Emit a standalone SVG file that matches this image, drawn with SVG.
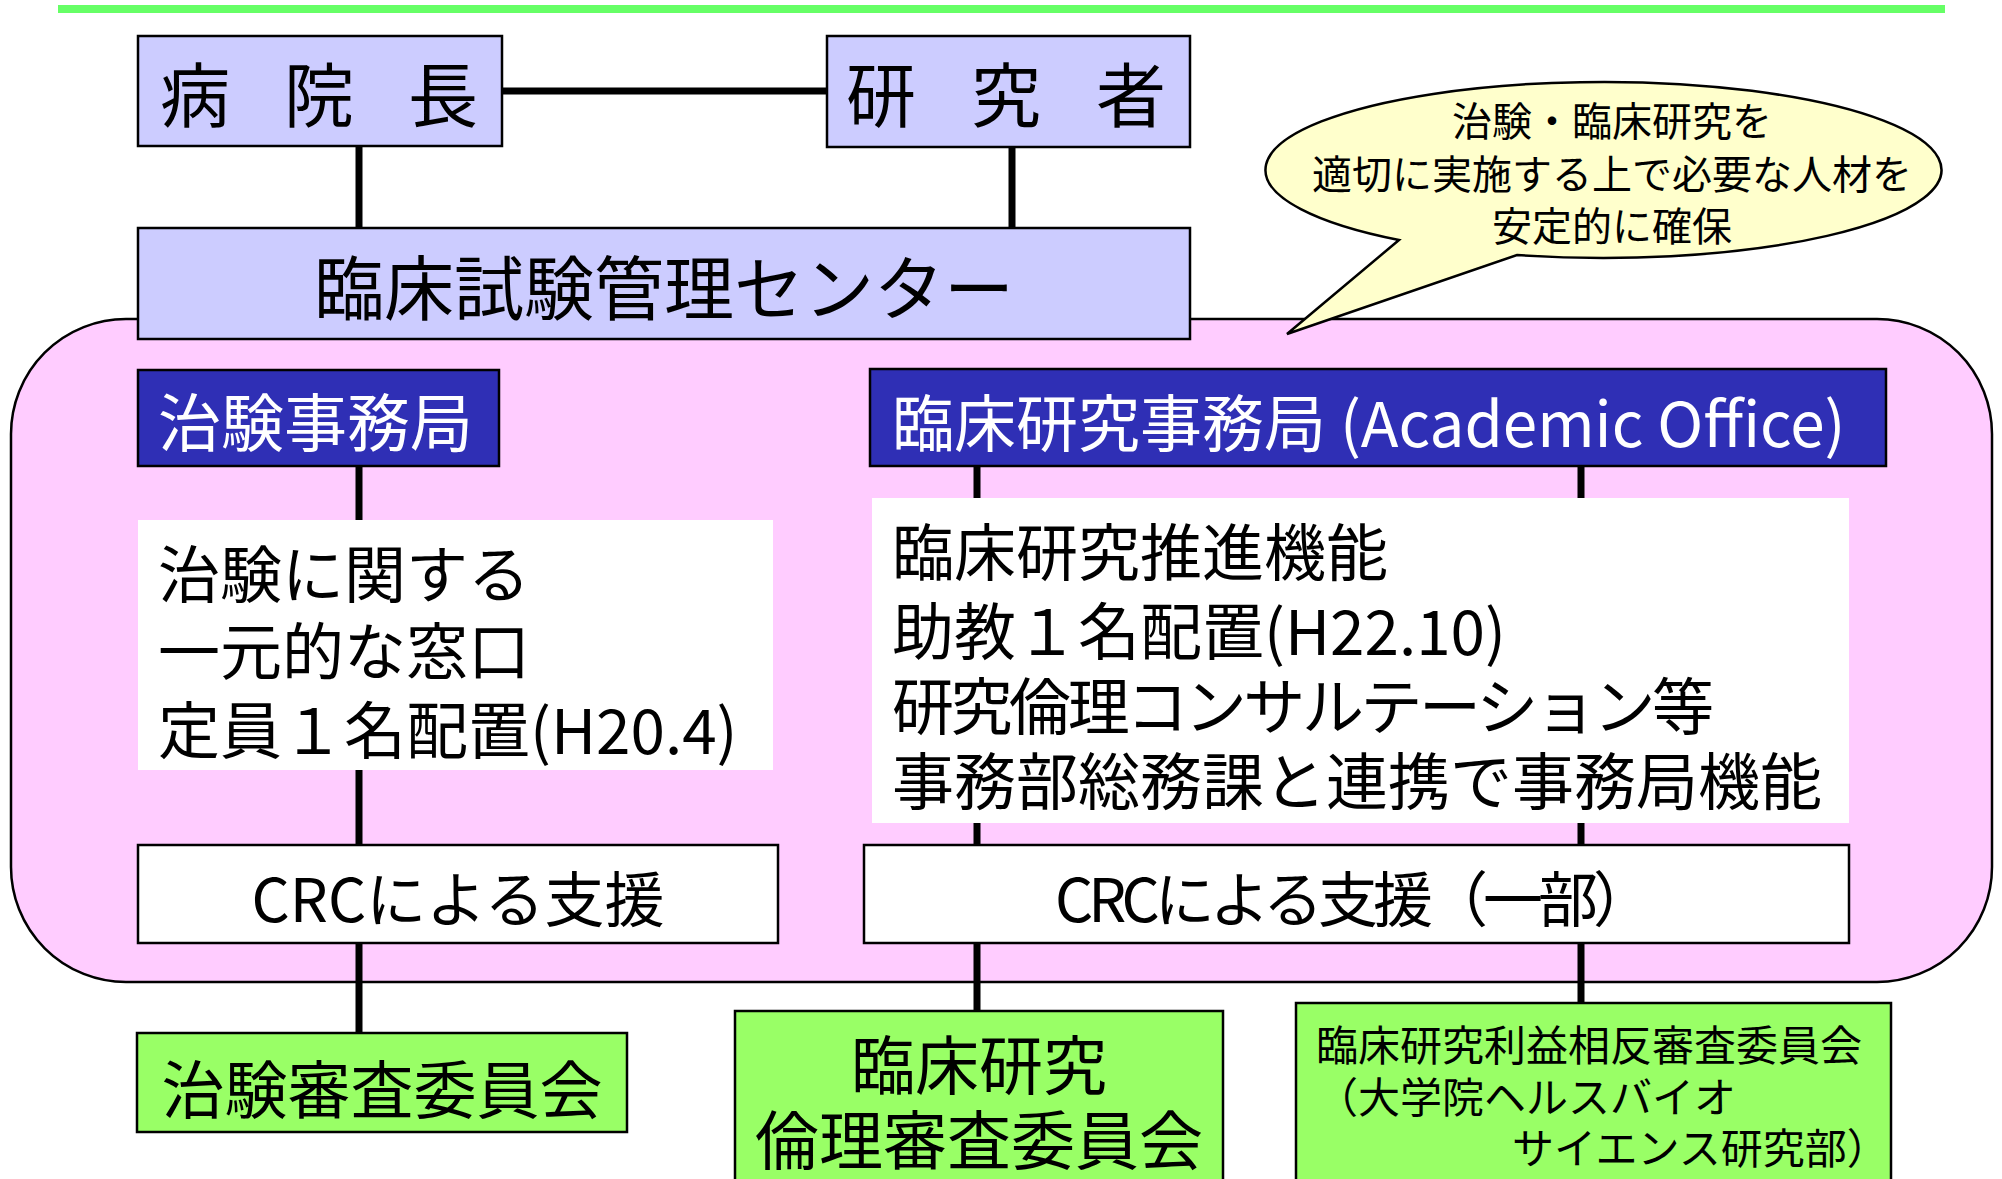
<svg xmlns="http://www.w3.org/2000/svg" width="2002" height="1179" viewBox="0 0 2002 1179">
<style>
text{font-family:"Noto Sans CJK JP","Noto Sans CJK SC",sans-serif;dominant-baseline:central;fill:#000}
.box{stroke:#000;stroke-width:2.5}
.lb{fill:#CCCCFF}
.db{fill:#2F2FB5}
.gr{fill:#99FF66}
.wh{fill:#FFFFFF}
.conn{stroke:#000;stroke-width:7;fill:none}
.wt{fill:#FFFFFF}
.mid{text-anchor:middle}
</style>
<rect x="58" y="5" width="1887" height="8" fill="#66FF66"/>
<g id="container">
<rect x="11" y="319" width="1981" height="663" rx="115" ry="115" fill="#FFCCFF" stroke="#000" stroke-width="2.5"/>
</g>
<g id="callout">
<path d="M1399 240 L1287 334 L1517 255 A338 88 0 1 0 1399 240 Z" fill="#FFFFCC" stroke="#000" stroke-width="2.5"/>
<text x="1612" y="119" font-size="40" class="mid">治験・臨床研究を</text>
<text x="1612" y="172" font-size="40" class="mid">適切に実施する上で必要な人材を</text>
<text x="1612" y="224" font-size="40" class="mid">安定的に確保</text>
</g>
<g id="connectors">
<path class="conn" d="M502 91 H827"/>
<path class="conn" d="M359 146 V228"/>
<path class="conn" d="M1012 147 V228"/>
<path class="conn" d="M359 466 V1033"/>
<path class="conn" d="M977 466 V1011"/>
<path class="conn" d="M1581 466 V1003"/>
</g>
<g id="director">
<rect class="box lb" x="138" y="36" width="364" height="110"/>
<text x="160 228 284 352 408" y="91" font-size="70">病 院 長</text>
</g>
<g id="researcher">
<rect class="box lb" x="827" y="36" width="363" height="111"/>
<text x="846 914 971 1039 1096" y="91" font-size="70">研 究 者</text>
</g>
<g id="center">
<rect class="box lb" x="138" y="228" width="1052" height="111"/>
<text x="664" y="284" font-size="70" class="mid">臨床試験管理センター</text>
</g>
<g id="chiken-office">
<rect class="box db" x="138" y="370" width="361" height="96"/>
<text x="158" y="418" font-size="63" class="wt">治験事務局</text>
</g>
<g id="academic-office">
<rect class="box db" x="870" y="369" width="1016" height="97"/>
<text x="892" y="420" font-size="62" class="wt">臨床研究事務局 (Academic Office)</text>
</g>
<g id="chiken-desc">
<rect class="wh" x="138" y="520" width="635" height="250"/>
<text x="158" y="571" font-size="62">治験に関する</text>
<text x="158" y="648" font-size="62">一元的な窓口</text>
<text x="158" y="727" font-size="62">定員１名配置(H20.4)</text>
</g>
<g id="academic-desc">
<rect class="wh" x="872" y="498" width="977" height="325"/>
<text x="892" y="549" font-size="62">臨床研究推進機能</text>
<text x="892" y="628" font-size="62">助教１名配置(H22.10)</text>
<text x="892" y="703" font-size="62" textLength="822">研究倫理コンサルテーション等</text>
<text x="892" y="778" font-size="62">事務部総務課と連携で事務局機能</text>
</g>
<g id="crc1">
<rect class="box wh" x="138" y="845" width="640" height="98"/>
<text x="458" y="895" font-size="60" class="mid">CRCによる支援</text>
</g>
<g id="crc2">
<rect class="box wh" x="864" y="845" width="985" height="98"/>
<text x="1354" y="895" font-size="60" class="mid" textLength="598">CRCによる支援（一部）</text>
</g>
<g id="irb">
<rect class="box gr" x="137" y="1033" width="490" height="99"/>
<text x="382" y="1085" font-size="63" class="mid">治験審査委員会</text>
</g>
<g id="ethics">
<rect class="box gr" x="735" y="1011" width="488" height="185"/>
<text x="979" y="1061" font-size="64" class="mid">臨床研究</text>
<text x="979" y="1136" font-size="64" class="mid">倫理審査委員会</text>
</g>
<g id="coi">
<rect class="box gr" x="1296" y="1003" width="595" height="190"/>
<text x="1316" y="1042" font-size="42">臨床研究利益相反審査委員会</text>
<text x="1316" y="1094" font-size="42">（大学院ヘルスバイオ</text>
<text x="1512" y="1145" font-size="42">サイエンス研究部）</text>
</g>
</svg>
